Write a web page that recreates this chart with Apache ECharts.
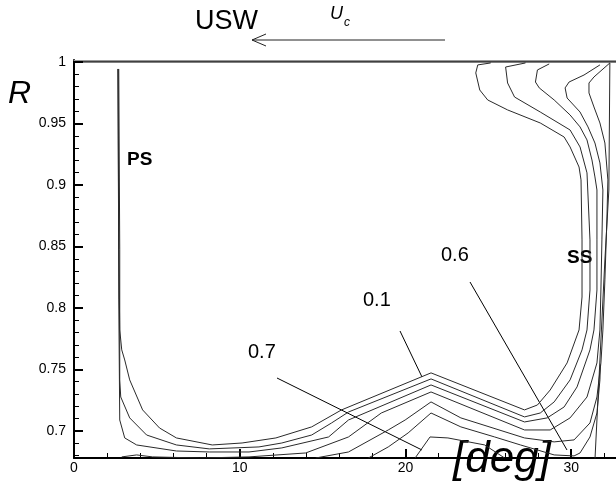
<!DOCTYPE html>
<html><head><meta charset="utf-8">
<script src="https://cdn.jsdelivr.net/npm/echarts@6/dist/echarts.min.js"></script>
<style>html,body{margin:0;padding:0;background:#fff}#c{width:616px;height:502px}</style>
</head><body><div id="c"></div>
<script>
// Tick values
const xTicks = [0, 10, 20, 30];
const xMinor = [2, 4, 6, 8, 12, 14, 16, 18, 22, 24, 26, 28, 32];
const yTicks = [0.7, 0.75, 0.8, 0.85, 0.9, 0.95, 1];
const yMinor = [0.68, 0.69, 0.71, 0.72, 0.73, 0.74, 0.76, 0.77, 0.78, 0.79, 0.81, 0.82, 0.83, 0.84,
  0.86, 0.87, 0.88, 0.89, 0.91, 0.92, 0.93, 0.94, 0.96, 0.97, 0.98, 0.99];

// Contour levels [deg, R]
const level01 = [[2.64,0.9943],[2.70,0.8472],[2.76,0.7821],[2.88,0.7659],[3.06,0.7577],[3.36,0.7415],[4.14,0.7171],[5.16,0.7024],[6.18,0.6943],[8.34,0.6886],[10.14,0.6902],[12.18,0.6943],[14.34,0.7033],[16.14,0.7171],[21.54,0.7472],[27.18,0.7171],[27.96,0.7211],[28.73,0.7333],[29.75,0.7553],[30.47,0.7821],[30.65,0.8089],[30.65,0.8553],[30.59,0.9041],[30.47,0.9146],[29.93,0.9309],[29.57,0.9390],[28.13,0.9504],[26.16,0.9610],[24.96,0.9691],[24.48,0.9772],[24.24,0.9911],[24.36,0.9976],[25.14,0.9992]];
const level02 = [[2.70,0.9943],[2.76,0.8472],[2.76,0.7415],[2.82,0.7276],[3.36,0.7106],[4.38,0.6967],[6.18,0.6886],[8.16,0.6854],[11.16,0.6870],[12.54,0.6902],[14.34,0.6967],[15.54,0.7065],[16.56,0.7154],[21.54,0.7423],[27.18,0.7114],[28.13,0.7146],[28.97,0.7236],[29.93,0.7415],[30.65,0.7659],[30.95,0.7821],[31.13,0.8146],[31.13,0.8553],[30.95,0.9098],[30.53,0.9309],[29.93,0.9447],[28.13,0.9593],[26.58,0.9715],[26.16,0.9829],[26.04,0.9959],[27.24,0.9992]];
const level03 = [[2.67,0.9943],[2.70,0.8065],[2.76,0.7089],[3.06,0.6943],[3.78,0.6886],[6.18,0.6837],[8.16,0.6829],[10.56,0.6829],[12.54,0.6862],[15.36,0.6951],[16.56,0.7089],[21.54,0.7374],[27.18,0.7073],[28.55,0.7106],[29.57,0.7195],[30.35,0.7358],[31.13,0.7659],[31.37,0.7821],[31.55,0.8146],[31.55,0.8553],[31.55,0.8959],[31.43,0.9065],[31.25,0.9203],[30.95,0.9366],[30.53,0.9472],[29.93,0.9569],[28.97,0.9691],[28.07,0.9789],[27.84,0.9837],[27.96,0.9935],[28.67,0.9984]];
const level04 = [[2.88,0.6789],[3.78,0.6805],[4.74,0.6789],[7.56,0.6780],[10.56,0.6789],[13.98,0.6821],[16.56,0.6951],[18.54,0.7146],[21.54,0.7317],[27.18,0.7008],[28.73,0.7008],[29.93,0.7106],[30.95,0.7276],[31.55,0.7553],[31.73,0.7821],[31.79,0.8146],[31.85,0.8553],[31.91,0.8959],[31.73,0.9179],[31.43,0.9341],[31.01,0.9472],[30.53,0.9593],[29.75,0.9707],[29.63,0.9789],[29.87,0.9837],[30.77,0.9894],[31.73,0.9976]];
const level05 = [[14.58,0.6780],[16.56,0.6829],[18.96,0.7008],[19.98,0.7089],[21.54,0.7236],[23.34,0.7106],[27.18,0.6943],[28.97,0.6911],[30.17,0.6927],[31.13,0.7065],[31.55,0.7276],[31.79,0.7553],[31.91,0.7821],[32.03,0.8228],[32.15,0.8715],[32.21,0.9041],[32.03,0.9341],[31.73,0.9504],[31.37,0.9634],[31.07,0.9748],[31.07,0.9829],[31.37,0.9878],[32.33,0.9992]];
const level06 = [[17.76,0.6780],[18.96,0.6870],[20.16,0.6984],[21.54,0.7146],[23.34,0.7033],[25.38,0.6951],[26.94,0.6886],[28.97,0.6805],[30.17,0.6797],[30.53,0.6821],[31.13,0.6951],[31.55,0.7146],[31.73,0.7415],[31.76,0.7540]];
const level07 = [[20.58,0.6780],[21.48,0.6951],[22.56,0.6943],[24.78,0.6886],[25.98,0.6780]];
const ssWall = [[32.33,0.9992],[32.27,0.8959],[32.03,0.8390],[31.73,0.7577],[31.43,0.6764]];
const casing = [[0,1],[32.7,1]];

const levels = [level01, level02, level03, level04, level05, level06, level07, ssWall];

const chart = echarts.init(document.getElementById('c'), null, {renderer: 'canvas'});
const X_MIN = 0, X_MAX = 32.7, Y_MIN = 0.678, Y_MAX = 1.0016;
const font = 'Liberation Sans, Arial, Helvetica, sans-serif';

const series = levels.map(d => ({
  type: 'line', data: d, symbol: 'none', silent: true, clip: true,
  lineStyle: {color: '#2a2a2a', width: 1}, xAxisIndex: 0, yAxisIndex: 0
}));
series.push({type: 'line', data: casing, symbol: 'none', clip: false,
  lineStyle: {color: '#000', width: 1.2}, xAxisIndex: 0, yAxisIndex: 0});

const option = {
  animation: false,
  backgroundColor: '#fff',
  grid: {left: 74, right: -3, top: 60, bottom: 44, containLabel: false},
  xAxis: [
    {type: 'value', min: X_MIN, max: X_MAX, position: 'bottom',
     axisLine: {show: true, lineStyle: {color: '#000', width: 2}},
     axisTick: {show: true, inside: true, length: 9, customValues: xTicks, lineStyle: {color: '#000', width: 2}},
     axisLabel: {show: true, customValues: xTicks, color: '#000', fontSize: 14, fontFamily: font, margin: 3},
     splitLine: {show: false}},
    {type: 'value', min: X_MIN, max: X_MAX, position: 'bottom',
     axisLine: {show: false},
     axisTick: {show: true, inside: true, length: 5, customValues: xMinor, lineStyle: {color: '#000', width: 1}},
     axisLabel: {show: false}, splitLine: {show: false}},
    {type: 'value', min: X_MIN, max: X_MAX, position: 'top',
     axisLine: {show: true, lineStyle: {color: '#999', width: 1}},
     axisTick: {show: false}, axisLabel: {show: false}, splitLine: {show: false}}
  ],
  yAxis: [
    {type: 'value', min: Y_MIN, max: Y_MAX, position: 'left',
     axisLine: {show: true, lineStyle: {color: '#000', width: 2}},
     axisTick: {show: true, inside: true, length: 9, customValues: yTicks, lineStyle: {color: '#000', width: 2}},
     axisLabel: {show: true, customValues: yTicks, color: '#000', fontSize: 14, fontFamily: font, margin: 8,
       formatter: v => String(+(+v).toFixed(2))},
     splitLine: {show: false}},
    {type: 'value', min: Y_MIN, max: Y_MAX, position: 'left',
     axisLine: {show: false},
     axisTick: {show: true, inside: true, length: 5, customValues: yMinor, lineStyle: {color: '#000', width: 1}},
     axisLabel: {show: false}, splitLine: {show: false}}
  ],
  series: series,
  graphic: [
    {type: 'text', left: 195, top: 8, style: {text: 'USW', font: '27px ' + font, fill: '#000'}},
    {type: 'text', left: 330, top: 5, style: {text: 'U', font: 'italic 18px ' + font, fill: '#000'}},
    {type: 'text', left: 344, top: 17, style: {text: 'c', font: 'italic 12px ' + font, fill: '#000'}},
    {type: 'polyline', shape: {points: [[445, 40], [252, 40]]}, style: {stroke: '#222', lineWidth: 1}},
    {type: 'polyline', shape: {points: [[266, 34], [252, 40], [266, 46]]}, style: {stroke: '#222', lineWidth: 1, fill: null}},
    {type: 'text', left: 8, top: 78, style: {text: 'R', font: 'italic 32px ' + font, fill: '#000'}},
    {type: 'text', left: 127, top: 150, style: {text: 'PS', font: 'bold 19px ' + font, fill: '#000'}},
    {type: 'text', left: 567, top: 248, style: {text: 'SS', font: 'bold 19px ' + font, fill: '#000'}},
    {type: 'text', left: 441, top: 245, style: {text: '0.6', font: '20px ' + font, fill: '#000'}},
    {type: 'text', left: 363, top: 290, style: {text: '0.1', font: '20px ' + font, fill: '#000'}},
    {type: 'text', left: 248, top: 342, style: {text: '0.7', font: '20px ' + font, fill: '#000'}},
    {type: 'polyline', shape: {points: [[470, 282], [567, 450]]}, style: {stroke: '#000', lineWidth: 1}},
    {type: 'polyline', shape: {points: [[400, 331], [422, 377]]}, style: {stroke: '#000', lineWidth: 1}},
    {type: 'polyline', shape: {points: [[277, 378], [422, 450]]}, style: {stroke: '#000', lineWidth: 1}},
    {type: 'text', left: 453, top: 438, style: {text: '[deg]', font: 'italic 44px ' + font, fill: '#000'}}
  ]
};
chart.setOption(option);
</script>
</body></html>
